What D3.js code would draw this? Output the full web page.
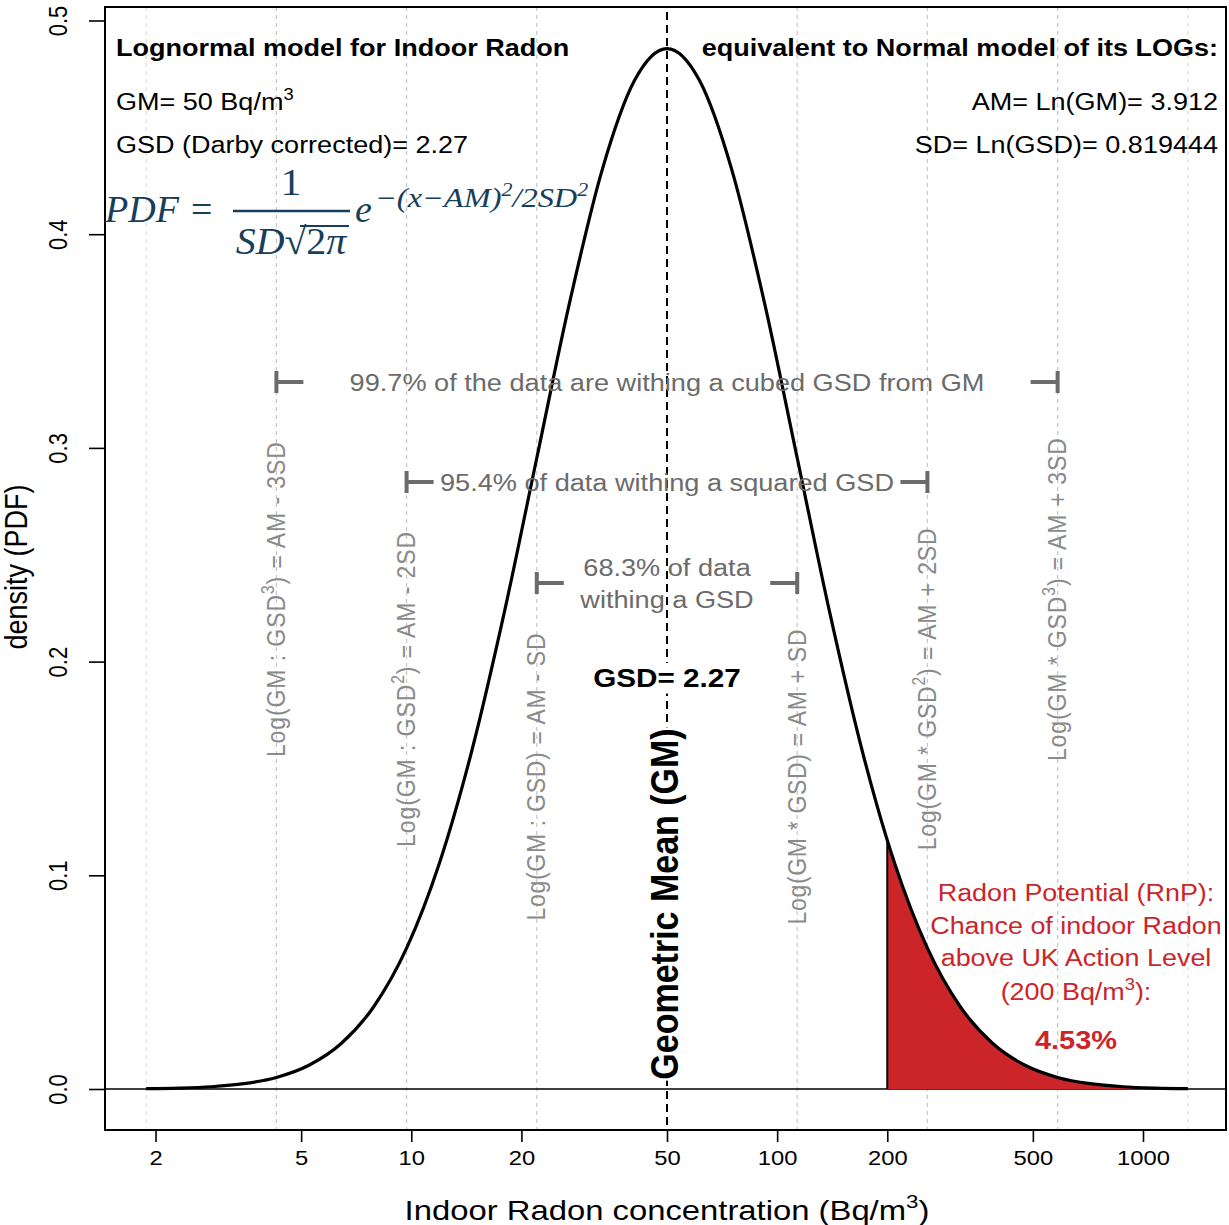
<!DOCTYPE html>
<html>
<head>
<meta charset="utf-8">
<script src="https://cdn.jsdelivr.net/npm/d3@7"></script>
<style>
  body { margin: 0; background: #fff; }
  text { font-family: "Liberation Sans", Arial, sans-serif; }
</style>
</head>
<body>
<svg id="chart" width="1229" height="1225"></svg>
<script>
// lognormal density (x = Bq/m3, y = PDF of the logs)
const concentration = [1.885, 2.314, 2.840, 3.486, 4.279, 5.251, 6.445, 7.911, 9.709, 11.917, 14.626, 17.952,
    22.033, 27.043, 33.191, 40.738, 50, 61.37, 75.32, 92.45, 113.47, 139.26, 170.93, 200, 209.79, 257.49,
    316.03, 387.88, 476.07, 584.31, 717.16, 880.22, 1080.35, 1325.99];
const density = [0.00016, 0.00043, 0.00106, 0.00248, 0.00541, 0.01110, 0.02139, 0.03873, 0.06589, 0.10529,
    0.15806, 0.22289, 0.29529, 0.36750, 0.42965, 0.47187, 0.48685, 0.47187, 0.42965, 0.36750, 0.29529,
    0.22289, 0.15806, 0.11639, 0.10529, 0.06589, 0.03873, 0.02139, 0.01110, 0.00541, 0.00248, 0.00106,
    0.00043, 0.00016];

// GM * GSD^k for k = -4..4 (k != 0)
const sdSteps = [-4, -3, -2, -1, 1, 2, 3, 4];
const sdConc = [1.885, 4.279, 9.709, 22.033, 113.47, 257.49, 584.31, 1325.99];

const GM = 50, ACTION_LEVEL = 200;
const xTicks = [2, 5, 10, 20, 50, 100, 200, 500, 1000];
const yTicks = [0, 0.1, 0.2, 0.3, 0.4, 0.5];

const sdLabels = {
    "-3": ["Log(GM : GSD", {sup: "3"}, ") = AM - 3SD"],
    "-2": ["Log(GM : GSD", {sup: "2"}, ") = AM - 2SD"],
    "-1": ["Log(GM : GSD) = AM - SD"],
    "1": ["Log(GM * GSD) = AM + SD"],
    "2": ["Log(GM * GSD", {sup: "2"}, ") = AM + 2SD"],
    "3": ["Log(GM * GSD", {sup: "3"}, ") = AM + 3SD"]
};
const bracketTexts = {
    3: ["99.7% of the data are withing a cubed GSD from GM"],
    2: ["95.4% of data withing a squared GSD"],
    1: ["68.3% of data", "withing a GSD"]
};
const rnpLines = ["Radon Potential (RnP):", "Chance of indoor Radon", "above UK Action Level"];
const rnpValue = "4.53%";

// picture is stretched a bit horizontally, text too
const SX = 1.16;
const RED = "#cc2529", GREY_TXT = "#6b6b6b", LABEL_GREY = "#8a8a8a", NAVY = "#173f5c";

const svg = d3.select("#chart");
const plotLeft = 105, plotRight = 1226, plotTop = 7, plotBottom = 1130;

const x = d3.scaleLog().domain([1.455, 1686]).range([plotLeft, plotRight]);
const y = d3.scaleLinear().domain([0, 0.5]).range([1089, 20.5]);

function addText(parent, px, py, parts, o = {}) {
    const size = o.size || 23;
    const t = parent.append("text")
        .attr("transform", `translate(${px},${py}) scale(${o.sx || SX},1)` + (o.rot ? ` rotate(${o.rot})` : ""))
        .attr("text-anchor", o.anchor || "start")
        .attr("font-size", size)
        .attr("font-weight", o.weight || "normal")
        .attr("font-style", o.italic ? "italic" : "normal")
        .attr("fill", o.fill || "#000");
    if (o.family) t.style("font-family", o.family);
    if (o.length) t.attr("textLength", o.length).attr("lengthAdjust", "spacing");
    let shifted = 0;
    (typeof parts === "string" ? [parts] : parts).forEach(p => {
        if (typeof p === "string") {
            const s = t.append("tspan").text(p);
            if (shifted) { s.attr("dy", shifted); shifted = 0; }
        } else if (p.sup) {
            const up = size * 0.42;
            t.append("tspan").attr("font-size", size * 0.68).attr("dy", -up).text(p.sup);
            shifted = up;
        } else {
            // plain (upright) piece inside an italic text
            t.append("tspan").attr("font-style", "normal").text(p.up);
        }
    });
    return t;
}

// white box behind a label so the GM line does not show through
function whiteBehind(t, pad) {
    const b = t.node().getBoundingClientRect();
    svg.insert("rect", () => t.node())
        .attr("x", b.left - pad).attr("y", b.top - pad)
        .attr("width", b.width + 2 * pad).attr("height", b.height + 2 * pad)
        .attr("fill", "#fff");
}

// reference lines at the SD steps
svg.append("g").selectAll("line")
    .data(sdConc)
    .join("line")
    .attr("x1", d => x(d)).attr("x2", d => x(d))
    .attr("y1", plotTop).attr("y2", plotBottom)
    .attr("stroke", (d, i) => Math.abs(sdSteps[i]) === 4 ? "#dcdcdc" : "#c6c6c6")
    .attr("stroke-width", 1.2)
    .attr("stroke-dasharray", "4,4");

// zero line
svg.append("line")
    .attr("x1", plotLeft).attr("x2", plotRight)
    .attr("y1", y(0)).attr("y2", y(0))
    .attr("stroke", "#000").attr("stroke-width", 1.3);

const pts = concentration.map((c, i) => [c, density[i]]);

// red area above action level
const tail = pts.filter(p => p[0] >= ACTION_LEVEL);
svg.append("path")
    .datum(tail)
    .attr("d", d3.area().x(d => x(d[0])).y0(y(0)).y1(d => y(d[1])).curve(d3.curveMonotoneX))
    .attr("fill", RED);
svg.append("line")
    .attr("x1", x(ACTION_LEVEL)).attr("x2", x(ACTION_LEVEL))
    .attr("y1", y(0)).attr("y2", y(tail[0][1]))
    .attr("stroke", "#000").attr("stroke-width", 2);

// GM dashed line
svg.append("line")
    .attr("x1", x(GM)).attr("x2", x(GM))
    .attr("y1", 12).attr("y2", plotBottom)
    .attr("stroke", "#000").attr("stroke-width", 2)
    .attr("stroke-dasharray", "8,5");

// density curve
svg.append("path")
    .datum(pts)
    .attr("d", d3.line().x(d => x(d[0])).y(d => y(d[1])).curve(d3.curveMonotoneX))
    .attr("fill", "none")
    .attr("stroke", "#000")
    .attr("stroke-width", 3.2);

// box
svg.append("rect")
    .attr("x", plotLeft).attr("y", plotTop)
    .attr("width", plotRight - plotLeft).attr("height", plotBottom - plotTop)
    .attr("fill", "none").attr("stroke", "#000").attr("stroke-width", 2);

// axes
const yAxis = svg.append("g")
    .attr("transform", `translate(${plotLeft},0)`)
    .call(d3.axisLeft(y).tickValues(yTicks).tickFormat(d3.format(".1f")).tickSize(16).tickSizeOuter(0));
yAxis.select(".domain").remove();
yAxis.selectAll(".tick line").attr("stroke-width", 1.6);
yAxis.selectAll(".tick text").remove();
yAxis.selectAll(".tick").each(function (d) {
    addText(d3.select(this), -38, 0, d3.format(".1f")(d), {size: 22, rot: -90, anchor: "middle"});
});

const xAxis = svg.append("g")
    .attr("transform", `translate(0,${plotBottom})`)
    .call(d3.axisBottom(x).tickValues(xTicks).tickFormat(d3.format("d")).tickSize(12).tickSizeOuter(0));
xAxis.select(".domain").remove();
xAxis.selectAll(".tick line").attr("stroke-width", 1.6);
xAxis.selectAll(".tick text").remove();
xAxis.selectAll(".tick").each(function (d) {
    addText(d3.select(this), 0, 35, String(d), {size: 20.5, anchor: "middle"});
});

addText(svg, 667, 1220, ["Indoor Radon concentration (Bq/m", {sup: "3"}, ")"], {size: 28.3, anchor: "middle"});
addText(svg, 27, 567, "density (PDF)", {size: 27, anchor: "middle", rot: -90});

// rotated SD labels
const labelY = {3: 0.229, 2: 0.187, 1: 0.146};
const labelLen = {"-3": 315, "-2": 315, "-1": 287, "1": 295, "2": 322, "3": 323};
sdSteps.forEach((k, i) => {
    if (Math.abs(k) === 4) return;
    addText(svg, x(sdConc[i]) + 8.5, y(labelY[Math.abs(k)]), sdLabels[k],
        {size: 23, rot: -90, anchor: "middle", fill: LABEL_GREY, length: labelLen[k]});
});

// brackets
const bracketY = {3: 382, 2: 482, 1: 583};
[3, 2, 1].forEach(k => {
    const xl = x(sdConc[sdSteps.indexOf(-k)]), xr = x(sdConc[sdSteps.indexOf(k)]), by = bracketY[k];
    svg.append("path")
        .attr("d", `M${xl},${by - 11}V${by + 11}M${xl},${by}H${xl + 27}M${xr},${by - 11}V${by + 11}M${xr},${by}H${xr - 27}`)
        .attr("stroke", GREY_TXT).attr("stroke-width", 4).attr("fill", "none");
    const lines = bracketTexts[k];
    lines.forEach((s, j) => {
        const ly = lines.length === 1 ? by + 8.5 : by - 7 + j * 32;
        addText(svg, x(GM), ly, s, {size: 23.4, anchor: "middle", fill: GREY_TXT});
    });
});

const gsdLabel = addText(svg, x(GM), 687, "GSD= 2.27", {size: 25.6, weight: "bold", anchor: "middle"});
whiteBehind(gsdLabel, 1);
const gmLabel = addText(svg, x(GM) + 11, 904, "Geometric Mean (GM)", {size: 34, weight: "bold", anchor: "middle", rot: -90});
whiteBehind(gmLabel, 1);

// RnP annotation
rnpLines.forEach((s, j) => addText(svg, 1076, 901 + j * 32.5, s, {size: 23.2, anchor: "middle", fill: RED}));
addText(svg, 1076, 1000, ["(200 Bq/m", {sup: "3"}, "):"], {size: 23.2, anchor: "middle", fill: RED});
addText(svg, 1076, 1049, rnpValue, {size: 25, weight: "bold", anchor: "middle", fill: RED});

// header texts
addText(svg, 116, 56, "Lognormal model for Indoor Radon", {size: 23.3, weight: "bold"});
addText(svg, 116, 110, ["GM= 50 Bq/m", {sup: "3"}], {size: 23.3});
addText(svg, 116, 153, "GSD (Darby corrected)= 2.27", {size: 23.3});
addText(svg, 1218, 56, "equivalent to Normal model of its LOGs:", {size: 23.3, weight: "bold", anchor: "end"});
addText(svg, 1218, 110, "AM= Ln(GM)= 3.912", {size: 23.3, anchor: "end"});
addText(svg, 1218, 153, "SD= Ln(GSD)= 0.819444", {size: 23.3, anchor: "end"});

// formula
const serif = '"Liberation Serif", "DejaVu Serif", serif';
const fm = {size: 37, italic: true, family: serif, fill: NAVY, sx: 1.03};
addText(svg, 105, 222, "PDF =", fm);
addText(svg, 291, 195, "1", {...fm, italic: false, anchor: "middle", size: 38, sx: 1.1});
svg.append("line").attr("x1", 233).attr("x2", 350).attr("y1", 211).attr("y2", 211)
    .attr("stroke", NAVY).attr("stroke-width", 2.5);
addText(svg, 291, 254, ["SD", {up: "\u221A2"}, "\u03C0"], {...fm, size: 38, sx: 1.05, anchor: "middle"});
svg.append("line").attr("x1", 300).attr("x2", 349).attr("y1", 226).attr("y2", 226)
    .attr("stroke", NAVY).attr("stroke-width", 2.2);
addText(svg, 355, 222, "e", fm);
addText(svg, 375, 207, ["\u2212(x\u2212AM)", {sup: "2"}, "/2SD", {sup: "2"}], {...fm, size: 27, sx: 1.2});
</script>
</body>
</html>
